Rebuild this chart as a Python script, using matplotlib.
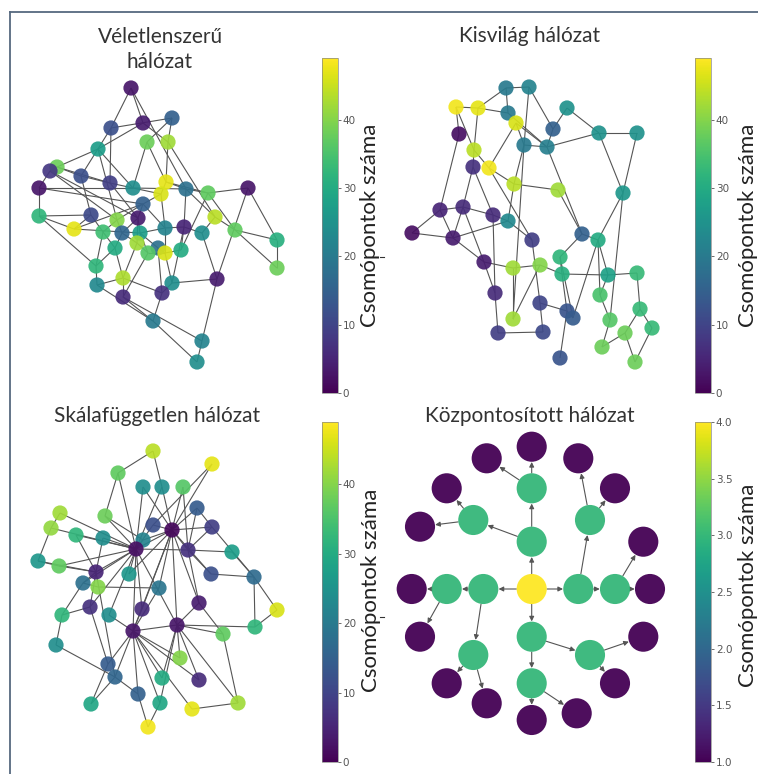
import matplotlib
matplotlib.use("Agg")
import matplotlib.pyplot as plt
from matplotlib.collections import LineCollection
from matplotlib.lines import Line2D
from matplotlib.cm import ScalarMappable
from matplotlib.colors import Normalize

W, H = 758, 774
FONT = ["Lato", "DejaVu Sans"]

# ---- Véletlenszerű hálózat (random) ----
tl_x = [131, 143, 172, 111, 147, 168, 98, 57, 50, 81, 39, 110, 133, 166, 161, 186, 208, 248, 39, 91,
        74, 143, 215, 117, 138, 103, 122, 140, 165, 184, 202, 235, 277, 115, 137, 158, 148, 165, 181, 96,
        277, 123, 97, 172, 217, 123, 162, 153, 202, 197]
tl_y = [88, 123, 118, 128, 142, 142, 149, 167, 171, 176, 188, 183, 188, 182, 194, 189, 193, 188, 216, 215,
        229, 204, 217, 220, 218, 232, 233, 233, 228, 227, 233, 230, 240, 248, 243, 248, 253, 253, 250, 266,
        268, 278, 285, 283, 279, 297, 293, 321, 341, 362]
tl_val = [3, 4, 15, 12, 38, 42, 27, 38, 8, 12, 3, 9, 24, 47, 46, 18, 37, 3, 32, 11,
          47, 15, 44, 40, 4, 34, 16, 27, 22, 5, 24, 37, 31, 30, 42, 18, 36, 46, 30, 32,
          38, 43, 23, 24, 4, 6, 7, 20, 22, 24]
tl_edges = [(1, 2), (1, 4), (1, 16), (2, 6), (2, 7), (3, 4), (3, 5), (3, 6), (4, 10), (4, 12), (5, 13),
            (5, 14), (6, 14), (6, 23), (7, 8), (7, 13), (7, 24), (8, 9), (8, 10), (8, 12), (9, 11),
            (9, 24), (9, 25), (10, 12), (10, 20), (11, 19), (11, 13), (11, 22), (12, 13), (12, 25),
            (13, 15), (13, 16), (14, 15), (14, 16), (14, 17), (15, 22), (15, 29), (16, 17), (16, 30),
            (16, 23), (17, 18), (17, 32), (17, 39), (18, 33), (18, 45), (19, 20), (19, 21), (19, 40),
            (20, 21), (20, 26), (21, 28), (21, 22), (22, 24), (22, 25), (22, 29), (23, 31), (23, 32),
            (24, 26), (24, 27), (25, 27), (25, 35), (25, 28), (26, 34), (26, 40), (27, 35), (27, 34),
            (28, 36), (28, 37), (28, 29), (29, 30), (29, 38), (30, 31), (30, 39), (30, 44), (31, 45),
            (32, 33), (32, 41), (33, 41), (34, 40), (34, 42), (35, 37), (35, 42), (36, 38), (36, 47),
            (37, 38), (37, 46), (38, 39), (38, 44), (40, 43), (42, 43), (42, 46), (42, 47), (43, 48),
            (44, 47), (44, 45), (45, 49), (46, 48), (46, 49), (47, 48), (48, 50), (49, 50)]

# ---- Kisvilág hálózat (small world) ----
tr_x = [506, 529, 456, 478, 508, 516, 567, 553, 459, 599, 637, 524, 547, 474, 473, 489, 514, 558, 623, 440,
        463, 493, 508, 412, 453, 532, 582, 598, 484, 560, 513, 540, 562, 608, 637, 495, 600, 540, 567, 573,
        640, 610, 652, 513, 498, 543, 625, 602, 560, 635]
tr_y = [88, 87, 107, 108, 113, 123, 108, 129, 134, 133, 133, 145, 147, 150, 167, 168, 184, 190, 193, 210,
        207, 215, 221, 233, 238, 240, 234, 240, 262, 257, 268, 265, 274, 275, 273, 293, 295, 303, 311, 318,
        309, 320, 328, 319, 333, 332, 333, 347, 358, 362]
tr_val = [20, 22, 48, 47, 20, 46, 25, 15, 2, 25, 25, 20, 21, 44, 7, 48, 44, 42, 26, 5,
          6, 6, 23, 2, 4, 9, 15, 30, 4, 32, 42, 40, 31, 28, 33, 6, 35, 10, 13, 14,
          33, 36, 33, 42, 9, 11, 38, 38, 13, 38]
tr_edges = [(1, 2), (1, 4), (1, 5), (2, 8), (2, 12), (3, 4), (3, 9), (3, 14), (4, 14), (4, 5), (5, 13),
            (6, 12), (6, 16), (6, 13), (7, 8), (7, 10), (8, 13), (10, 11), (10, 19), (11, 19), (12, 13),
            (12, 17), (12, 44), (13, 10), (13, 27), (9, 20), (14, 15), (14, 16), (15, 21), (15, 22),
            (16, 17), (16, 26), (17, 18), (17, 23), (18, 27), (19, 28), (19, 42), (20, 21), (20, 24),
            (20, 25), (21, 22), (21, 25), (21, 29), (22, 23), (23, 25), (24, 25), (22, 36), (23, 26),
            (25, 29), (26, 38), (27, 30), (27, 28), (28, 34), (28, 37), (29, 31), (29, 36), (30, 33),
            (31, 32), (32, 33), (32, 44), (33, 34), (33, 39), (34, 35), (34, 37), (35, 41), (36, 45),
            (38, 46), (38, 39), (39, 40), (39, 49), (40, 28), (41, 43), (41, 47), (42, 37), (42, 48),
            (43, 50), (47, 50), (47, 48), (45, 46), (44, 31), (30, 40)]

# ---- Skálafüggetlen hálózat (scale free) ----
bl_x = [153, 212, 118, 143, 162, 183, 197, 60, 105, 153, 172, 212, 51, 76, 103, 143, 136, 188, 232, 38,
        59, 96, 129, 211, 254, 83, 98, 159, 90, 142, 199, 277, 62, 109, 177, 255, 133, 223, 56, 180,
        108, 115, 162, 199, 138, 91, 160, 192, 238, 148]
bl_y = [451, 464, 473, 487, 487, 487, 508, 513, 516, 525, 530, 527, 528, 535, 538, 540, 549, 550, 552, 561,
        566, 572, 574, 574, 577, 583, 587, 588, 607, 609, 603, 610, 615, 615, 625, 627, 631, 634, 645, 658,
        664, 677, 678, 680, 694, 704, 703, 709, 703, 727]
bl_val = [44, 47, 37, 24, 24, 36, 14, 42, 38, 12, 1, 9, 41, 32, 24, 22, 2, 7, 27, 26,
          37, 5, 26, 12, 17, 18, 40, 19, 7, 6, 4, 46, 32, 24, 3, 32, 3, 37, 24, 40,
          14, 16, 30, 6, 15, 29, 29, 47, 42, 48]
bl_edges = [(1, 3), (1, 5), (2, 11), (2, 10), (3, 9), (3, 17), (4, 17), (4, 11), (5, 11), (5, 17),
            (6, 11), (6, 18), (7, 11), (7, 18), (8, 17), (8, 13), (9, 17), (9, 16), (10, 11), (10, 17),
            (12, 11), (12, 18), (13, 20), (13, 17), (14, 17), (14, 22), (15, 17), (15, 22), (16, 17),
            (16, 11), (18, 11), (18, 17), (19, 18), (19, 25), (20, 21), (20, 22), (21, 17), (21, 22),
            (23, 17), (23, 11), (24, 18), (24, 11), (25, 12), (25, 24), (26, 22), (26, 17), (27, 26),
            (27, 28), (28, 11), (28, 37), (29, 22), (29, 17), (30, 17), (30, 11), (31, 11), (31, 35),
            (32, 25), (32, 36), (33, 26), (33, 29), (34, 37), (34, 17), (35, 11), (35, 17), (36, 25),
            (36, 35), (37, 17), (37, 11), (38, 35), (38, 31), (39, 42), (39, 33), (40, 35), (40, 37),
            (41, 37), (41, 29), (42, 37), (42, 22), (43, 35), (43, 37), (44, 35), (44, 37), (45, 37),
            (45, 42), (46, 42), (46, 41), (47, 35), (47, 37), (48, 49), (48, 37), (49, 38), (49, 35),
            (50, 47), (50, 45), (22, 17), (17, 11), (35, 37), (30, 37), (31, 18), (12, 7)]

# ---- Központosított hálózat (centralised tree) ----
br_x = [531.7, 531.7, 483.3, 578.3, 531.7, 531.7, 473.3, 446.7, 473.3, 590, 615, 531.7, 590,
        531.7, 486.7, 446.7, 420, 411.7, 420, 446.7, 486.7, 578.3, 615, 643.3, 650, 531.7, 576.7,
        643.3, 615]
br_y = [589, 541.7, 589, 589, 636.7, 488.3, 520, 589, 655, 520, 589, 683.3, 655,
        446.7, 458.3, 488.3, 526.7, 589, 636.7, 683.3, 703.3, 458.3, 488.3, 541.7, 589, 720, 713.3,
        636.7, 683.3]
br_val = [4, 3, 3, 3, 3, 3, 3, 3, 3, 3, 3, 3, 3,
          1, 1, 1, 1, 1, 1, 1, 1, 1, 1, 1, 1, 1, 1, 1, 1]
br_edges = [(0, 1), (0, 2), (0, 3), (0, 4), (1, 5), (1, 6), (2, 7), (2, 8), (3, 9), (3, 10), (4, 11),
            (4, 12), (5, 13), (5, 14), (6, 15), (6, 16), (7, 17), (7, 18), (8, 19), (8, 20), (9, 21),
            (9, 22), (10, 23), (10, 24), (11, 25), (11, 26), (12, 27), (12, 28)]

tl_ticks = [0, 10, 20, 30, 40]
br_ticks = [1.0, 1.5, 2.0, 2.5, 3.0, 3.5, 4.0]
cbar_label = "Csomópontok száma"


def box(x0, y0, x1, y1):
    return [x0 / W, 1 - y1 / H, (x1 - x0) / W, (y1 - y0) / H]


def panel(fig, x0, y0, x1, y1):
    ax = fig.add_axes(box(x0, y0, x1, y1))
    ax.set_xlim(x0, x1)
    ax.set_ylim(y1, y0)
    ax.axis("off")
    return ax


def draw_graph(ax, xs, ys, vals, edges, vmax):
    segs = [[(xs[a - 1], ys[a - 1]), (xs[b - 1], ys[b - 1])] for a, b in edges]
    ax.add_collection(LineCollection(segs, colors="#555555", linewidths=0.8, zorder=1))
    ax.scatter(xs, ys, c=vals, cmap="viridis", vmin=0, vmax=vmax, s=120,
               linewidths=0, alpha=0.92, zorder=2)


def add_cbar(fig, x0, y0, x1, y1, vmin, vmax, ticks, fmt, label_x, label_y):
    cax = fig.add_axes(box(x0, y0, x1, y1))
    sm = ScalarMappable(norm=Normalize(vmin, vmax), cmap="viridis")
    cb = fig.colorbar(sm, cax=cax, ticks=ticks)
    cb.ax.set_yticklabels([fmt.format(t) for t in ticks])
    cb.ax.tick_params(labelsize=7.5, colors="#555555", length=2.5, width=0.6, pad=1)
    cb.outline.set_linewidth(0.5)
    cb.outline.set_edgecolor("#888888")
    fig.text(label_x / W, 1 - label_y / H, cbar_label, rotation=90, ha="center", va="center",
             fontsize=16, family=FONT, color="#222222")


fig = plt.figure(figsize=(W / 100, H / 100), dpi=100)

ax1 = panel(fig, 15, 70, 310, 395)
draw_graph(ax1, tl_x, tl_y, tl_val, tl_edges, 49)
ax2 = panel(fig, 385, 50, 690, 395)
draw_graph(ax2, tr_x, tr_y, tr_val, tr_edges, 49)
ax3 = panel(fig, 15, 430, 310, 770)
draw_graph(ax3, bl_x, bl_y, bl_val, bl_edges, 49)

ax4 = panel(fig, 385, 430, 690, 770)
for a, b in br_edges:
    ax4.annotate("", xy=(br_x[b], br_y[b]), xytext=(br_x[a], br_y[a]),
                 arrowprops=dict(arrowstyle="-|>", color="#555555", lw=0.8,
                                 shrinkA=11, shrinkB=11, mutation_scale=7), zorder=1)
ax4.scatter(br_x, br_y, c=br_val, cmap="viridis", vmin=1, vmax=4, s=470,
            linewidths=0, alpha=0.95, zorder=2)

add_cbar(fig, 322, 58, 338, 393, 0, 49, tl_ticks, "{:d}", 370, 225)
add_cbar(fig, 695, 58, 711, 393, 0, 49, tl_ticks, "{:d}", 748, 225)
add_cbar(fig, 322, 422, 338, 762, 0, 49, tl_ticks, "{:d}", 371, 590)
add_cbar(fig, 695, 422, 711, 762, 1, 4, br_ticks, "{:.1f}", 748, 585)

title_kw = dict(ha="center", va="baseline", fontsize=15, family=FONT, color="#333333")
fig.text(160 / W, 1 - 43 / H, "Véletlenszerű", **title_kw)
fig.text(160 / W, 1 - 68 / H, "hálózat", **title_kw)
fig.text(530 / W, 1 - 42 / H, "Kisvilág hálózat", **title_kw)
fig.text(157 / W, 1 - 422 / H, "Skálafüggetlen hálózat", **title_kw)
fig.text(530 / W, 1 - 422 / H, "Központosított hálózat", **title_kw)

# outer frame (top and left edges only) plus two stray tick marks
frame = "#56697f"
fig.add_artist(Line2D([10 / W, 1], [1 - 12 / H, 1 - 12 / H], color=frame, lw=1.3))
fig.add_artist(Line2D([10 / W, 10 / W], [1 - 12 / H, 0], color=frame, lw=1.3))
for yy in (257, 617):
    fig.add_artist(Line2D([380 / W, 384 / W], [1 - yy / H, 1 - yy / H], color="#333333", lw=0.8))

fig.savefig("out.png", dpi=100, facecolor="white")
